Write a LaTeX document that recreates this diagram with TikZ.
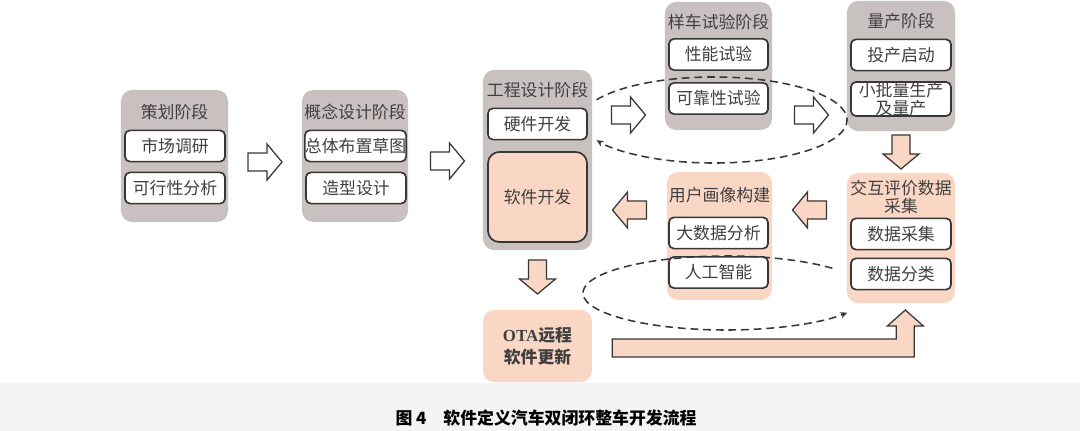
\documentclass[tikz,border=0pt]{standalone}
\usepackage{fontspec}
\setmainfont{Liberation Serif}
\newfontfamily\cjk{Noto Sans CJK SC}
\usetikzlibrary{arrows.meta,calc}

\definecolor{stagegray}{RGB}{201,193,191}
\definecolor{stagepink}{RGB}{250,214,196}
\definecolor{linegray}{RGB}{55,55,55}
\definecolor{bandgray}{RGB}{244,244,244}

\tikzset{
  stage/.style={fill=stagegray, rounded corners=8pt, minimum width=2.7cm, minimum height=3.3cm, inner sep=0pt},
  pinkstage/.style={stage, fill=stagepink},
  stagetitle/.style={font=\cjk\fontsize{12}{13}\selectfont, text=black!75, align=center, inner sep=0pt},
  item/.style={draw=linegray, line width=1.2pt, fill=white, rounded corners=3.5pt,
    minimum width=2.5cm, minimum height=0.78cm, inner sep=0pt, align=center,
    font=\cjk\fontsize{12}{12.5}\selectfont, text=black!75},
  whitearrow/.style={draw=linegray, line width=0.9pt, fill=white},
  pinkarrow/.style={draw=linegray, line width=0.9pt, fill=stagepink},
  feedback/.style={draw=linegray, line width=1.1pt, dash pattern=on 5.5pt off 3.5pt, -{Stealth[length=5pt,width=4.5pt]}},
  pics/blockarrow/.style={code={
    \draw[pic actions] (-17,-9) -- (2,-9) -- (2,-18) -- (17,0) -- (2,18) -- (2,9) -- (-17,9) -- cycle;
  }}
}

\begin{document}
\begin{tikzpicture}[x=0.025cm, y=-0.025cm]
    \useasboundingbox (0,0) rectangle (1080,431);
    % 底部图题条
    \fill[bandgray] (0,383) rectangle (1080,431);
    \node[font=\cjk\bfseries\fontsize{12}{13}\selectfont] (caption) at (546,418) {图 4\quad 软件定义汽车双闭环整车开发流程};

    % 策划阶段
    \node[stage, minimum width=2.675cm] (plan) at (174.5,156) {};
    \node[stagetitle] (plantitle) at (174.5,112) {策划阶段};
    \node[item] (plan1) at (175,146) {市场调研};
    \node[item] (plan2) at (175,188) {可行性分析};

    % 概念设计阶段
    \node[stage, minimum width=2.65cm] (concept) at (355,156) {};
    \node[stagetitle] (concepttitle) at (355,112) {概念设计阶段};
    \node[item, minimum width=2.525cm] (concept1) at (355.5,146) {总体布置草图};
    \node[item] (concept2) at (356,188) {造型设计};

    % 工程设计阶段
    \node[stage, minimum width=2.725cm, minimum height=4.5cm] (eng) at (537.5,160) {};
    \node[stagetitle] (engtitle) at (537.5,90) {工程设计阶段};
    \node[item, minimum width=2.475cm] (hw) at (537.5,124) {硬件开发};
    \node[item, minimum width=2.475cm, minimum height=2.25cm, fill=stagepink, rounded corners=8pt] (sw) at (537.5,197) {软件开发};

    % 样车试验阶段
    \node[stage, minimum width=2.675cm, minimum height=3.2cm] (sample) at (718.5,66) {};
    \node[stagetitle] (sampletitle) at (718.5,22) {样车试验阶段};
    \node[item, minimum width=2.475cm] (sample1) at (718.5,54.5) {性能试验};
    \node[item, minimum width=2.475cm] (sample2) at (718.5,98.5) {可靠性试验};

    % 量产阶段
    \node[stage, minimum height=3.25cm] (mass) at (901,66) {};
    \node[stagetitle] (masstitle) at (901,21) {量产阶段};
    \node[item] (mass1) at (901,55) {投产启动};
    \node[item, minimum height=0.85cm] (mass2) at (901,99) {小批量生产\\及量产};

    % 交互评价数据采集
    \node[pinkstage, minimum height=3.25cm] (collect) at (901,238) {};
    \node[stagetitle, font=\cjk\fontsize{12}{11}\selectfont] (collecttitle) at (901,197) {交互评价数据\\采集};
    \node[item] (collect1) at (901,234) {数据采集};
    \node[item] (collect2) at (901,274) {数据分类};

    % 用户画像构建
    \node[pinkstage, minimum width=2.625cm, minimum height=3.2cm] (portrait) at (719.5,236) {};
    \node[stagetitle] (portraittitle) at (719.5,195) {用户画像构建};
    \node[item, minimum width=2.475cm] (portrait1) at (718.5,233) {大数据分析};
    \node[item, minimum width=2.475cm] (portrait2) at (718.5,272.5) {人工智能};

    % OTA
    \node[pinkstage, minimum width=2.725cm, minimum height=1.8cm, align=center,
          font=\bfseries\fontsize{12}{16}\selectfont, text=black!75] (ota) at (537.5,346)
          {OTA{\cjk 远程}\\{\cjk 软件更新}};

    % 空心箭头
    \pic[whitearrow] at ($(plan.east)!0.5!(concept.west)+(0,6)$) {blockarrow};
    \pic[whitearrow] at ($(concept.east)!0.5!(eng.west)+(2,3)$) {blockarrow};
    \pic[whitearrow] at ($(eng.east)!0.5!(sample.west)+(0,2)$) {blockarrow};
    \pic[whitearrow] at ($(sample.east)!0.5!(mass.west)+(2,49)$) {blockarrow};
    \pic[pinkarrow, rotate=-90] at ($(mass.south)!0.5!(collect.north)$) {blockarrow};
    \pic[pinkarrow, rotate=180] at ($(portrait.east)!0.5!(collect.west)+(0,-27)$) {blockarrow};
    \pic[pinkarrow, rotate=180] at ($(eng.east)!0.5!(portrait.west)+(0,12)$) {blockarrow};
    \pic[pinkarrow, rotate=-90] at ($(eng.south)!0.5!(ota.north)+(0,-3)$) {blockarrow};

    % OTA 到数据采集的折线箭头
    \draw[pinkarrow] ($(ota.east)+(20,-7)$) -- ++(284,0) -- ++(0,-13) -- ++(-9,0) -- ++(18,-16)
        -- ++(18,16) -- ++(-9,0) -- ++(0,31) -- ++(-302,0) -- cycle;

    % 两个闭环
    \coordinate (upc) at (714,120);
    \coordinate (lowc) at (726,293);
    \draw[feedback] ([shift={(152:3.325cm and 1.075cm)}]upc)
        arc[start angle=152, end angle=-152, x radius=3.325cm, y radius=1.075cm];
    \draw[feedback] ([shift={(42:3.575cm and 0.925cm)}]lowc)
        arc[start angle=42, end angle=328, x radius=3.575cm, y radius=0.925cm];
\end{tikzpicture}
\end{document}
